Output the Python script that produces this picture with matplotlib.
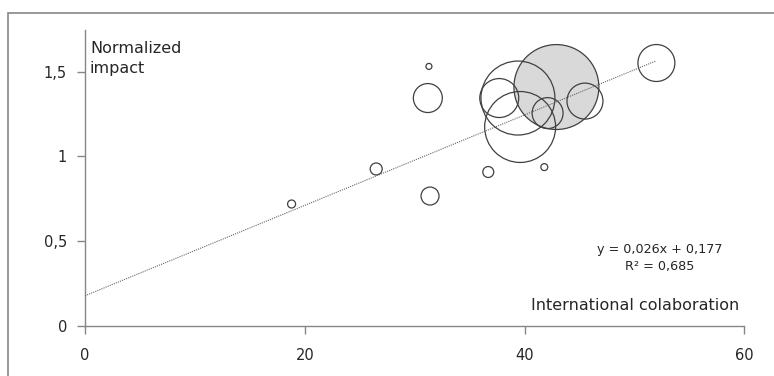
import numpy as np
import matplotlib
matplotlib.use("Agg")
import matplotlib.pyplot as plt

# Bubble data
collab = [18.8, 26.5, 31.4, 31.2, 31.3, 36.7, 41.8, 37.7, 39.4, 39.6, 42.9, 42.1, 45.5, 52.0]
impact = [0.719, 0.926, 0.766, 1.345, 1.532, 0.908, 0.937, 1.345, 1.345, 1.174, 1.410, 1.256, 1.327, 1.552]
bubble_size = [16, 36, 81, 210, 9, 30, 12, 380, 1370, 1260, 1806, 240, 324, 342]
highlight = 10  # the grey bubble

# Trendline as reported on the chart
trend_slope = 0.0267
trend_intercept = 0.177
eq_text = "y = 0,026x + 0,177\nR² = 0,685"

x_ticks = [0, 20, 40, 60]
y_ticks = [0, 0.5, 1, 1.5]
y_tick_labels = ["0", "0,5", "1", "1,5"]

plt.rcParams["font.family"] = ["DejaVu Sans"]

fig = plt.figure(figsize=(7.74, 3.76), dpi=100)
ax = fig.add_axes([85 / 774, 1 - 325.7 / 376, 659.3 / 774, 295.7 / 376])

# Outer chart frame (cut off at right and bottom)
fig.add_artist(plt.Rectangle((8 / 774, -0.5), 2, 1.5 - 13 / 376, transform=fig.transFigure,
                             fill=False, edgecolor="#868686", linewidth=1.2))

# Draw the biggest bubbles first, like Excel does
order = np.argsort(bubble_size)[::-1]
xs = np.array(collab)[order]
ys = np.array(impact)[order]
ss = np.array(bubble_size)[order] * 2.07
faces = ["#d9d9d9" if i == highlight else "none" for i in order]
ax.scatter(xs, ys, s=ss, facecolors=faces, edgecolors="#404040", linewidths=0.9, zorder=2)

# Trendline
tx = np.array([0, max(collab)])
ax.plot(tx, trend_intercept + trend_slope * tx, linestyle=(0, (1, 1)), color="#666666",
        linewidth=0.8, zorder=3)

ax.set_xlim(0, 60)
ax.set_ylim(0, 1.747)
ax.set_xticks(x_ticks)
ax.set_xticklabels([str(v) for v in x_ticks])
ax.set_yticks(y_ticks)
ax.set_yticklabels(y_tick_labels)

for side in ["top", "right"]:
    ax.spines[side].set_visible(False)
for side in ["left", "bottom"]:
    ax.spines[side].set_color("#868686")
    ax.spines[side].set_linewidth(1)
ax.tick_params(axis="both", direction="out", length=6, width=1, color="#868686",
               labelsize=10.5, labelcolor="#262626")
ax.tick_params(axis="y", pad=7)
ax.tick_params(axis="x", pad=10)

ax.text(0.45, 1.682, "Normalized\nimpact", fontsize=11.5, color="#262626", va="top", ha="left",
        linespacing=1.45)
ax.text(52.3, 0.40, eq_text, fontsize=9.2, color="#262626", ha="center", va="center",
        linespacing=1.35)
ax.text(59.5, 0.09, "International colaboration", fontsize=11.5, color="#262626",
        ha="right", va="baseline")

fig.savefig("out.png", dpi=100)
